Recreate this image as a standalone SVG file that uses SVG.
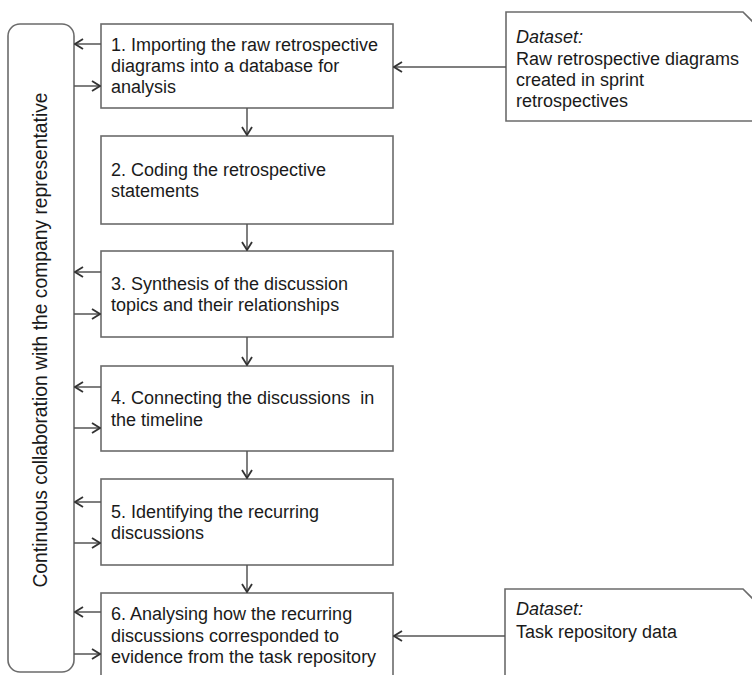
<svg xmlns="http://www.w3.org/2000/svg" width="752" height="675" viewBox="0 0 752 675">
<style>
.box{fill:#fff;stroke:#6b6b6b;stroke-width:1.6}
.ln{fill:none;stroke:#555;stroke-width:1.5}
.t{font-family:"Liberation Sans",Arial,sans-serif;font-size:18px;fill:#1a1a1a}
.i{font-style:italic}
</style>
<defs>
<marker id="ah" viewBox="0 0 10 12" markerWidth="10" markerHeight="12" refX="9" refY="6" orient="auto" markerUnits="userSpaceOnUse">
<path d="M1,1 L9,6 L1,11" fill="none" stroke="#333" stroke-width="1.8"/>
</marker>
</defs>
<rect width="752" height="675" fill="#fff"/>
<g id="panel">
<rect class="box" x="8" y="24" width="66" height="648" rx="12" ry="12"/>
<text class="t" style="font-size:19.3px" transform="translate(47,340) rotate(-90)" text-anchor="middle">Continuous collaboration with the company representative</text>
</g>
<g id="step1">
<rect class="box" x="101" y="24" width="292" height="84"/>
<text class="t" x="111" y="51">1. Importing the raw retrospective</text>
<text class="t" x="111" y="72">diagrams into a database for</text>
<text class="t" x="111" y="93">analysis</text>
</g>
<g id="step2">
<rect class="box" x="101" y="136" width="292" height="88"/>
<text class="t" x="111" y="176">2. Coding the retrospective</text>
<text class="t" x="111" y="197">statements</text>
</g>
<g id="step3">
<rect class="box" x="101" y="251" width="292" height="86"/>
<text class="t" x="111" y="290">3. Synthesis of the discussion</text>
<text class="t" x="111" y="311">topics and their relationships</text>
</g>
<g id="step4">
<rect class="box" x="101" y="366" width="292" height="85"/>
<text class="t" x="111" y="404" xml:space="preserve">4. Connecting the discussions  in</text>
<text class="t" x="111" y="426">the timeline</text>
</g>
<g id="step5">
<rect class="box" x="101" y="479" width="292" height="86"/>
<text class="t" x="111" y="518">5. Identifying the recurring</text>
<text class="t" x="111" y="539">discussions</text>
</g>
<g id="step6">
<rect class="box" x="101" y="593" width="292" height="90"/>
<text class="t" x="111" y="620">6. Analysing how the recurring</text>
<text class="t" x="111" y="642">discussions corresponded to</text>
<text class="t" x="111" y="663">evidence from the task repository</text>
</g>
<g id="dataset1">
<path class="box" d="M506,12 L743,12 L756,25 L756,121 L506,121 Z"/>
<text class="t i" x="516" y="43">Dataset:</text>
<text class="t" x="516" y="65">Raw retrospective diagrams</text>
<text class="t" x="516" y="86">created in sprint</text>
<text class="t" x="516" y="107">retrospectives</text>
</g>
<g id="dataset2">
<path class="box" d="M505,589 L743,589 L756,602 L756,690 L505,690 Z"/>
<text class="t i" x="516" y="615">Dataset:</text>
<text class="t" x="516" y="638">Task repository data</text>
</g>
<g id="connectors">
<line class="ln" x1="506" y1="67" x2="394" y2="67" marker-end="url(#ah)"/>
<line class="ln" x1="505" y1="636" x2="394" y2="636" marker-end="url(#ah)"/>
<line class="ln" x1="247" y1="108" x2="247" y2="135" marker-end="url(#ah)"/>
<line class="ln" x1="247" y1="224" x2="247" y2="250" marker-end="url(#ah)"/>
<line class="ln" x1="247" y1="337" x2="247" y2="365" marker-end="url(#ah)"/>
<line class="ln" x1="247" y1="451" x2="247" y2="478" marker-end="url(#ah)"/>
<line class="ln" x1="247" y1="565" x2="247" y2="592" marker-end="url(#ah)"/>
<line class="ln" x1="101" y1="44" x2="75" y2="44" marker-end="url(#ah)"/>
<line class="ln" x1="74" y1="86" x2="100" y2="86" marker-end="url(#ah)"/>
<line class="ln" x1="101" y1="272" x2="75" y2="272" marker-end="url(#ah)"/>
<line class="ln" x1="74" y1="314" x2="100" y2="314" marker-end="url(#ah)"/>
<line class="ln" x1="101" y1="387" x2="75" y2="387" marker-end="url(#ah)"/>
<line class="ln" x1="74" y1="428" x2="100" y2="428" marker-end="url(#ah)"/>
<line class="ln" x1="101" y1="502" x2="75" y2="502" marker-end="url(#ah)"/>
<line class="ln" x1="74" y1="543" x2="100" y2="543" marker-end="url(#ah)"/>
<line class="ln" x1="101" y1="612" x2="75" y2="612" marker-end="url(#ah)"/>
<line class="ln" x1="74" y1="654" x2="100" y2="654" marker-end="url(#ah)"/>
</g>
</svg>
